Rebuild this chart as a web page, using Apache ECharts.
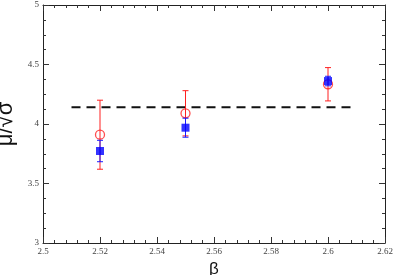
<!DOCTYPE html>
<html>
<head>
<meta charset="utf-8">
<script src="https://cdn.jsdelivr.net/npm/echarts@6/dist/echarts.min.js"></script>
<style>
  html, body { margin: 0; padding: 0; background: #fff; }
  #chart { width: 395px; height: 275px; }
</style>
</head>
<body>
<div id="chart"></div>
<script>
const betas = [2.52, 2.55, 2.6];
const redVals = [3.91, 4.09, 4.334];
const redErrs = [0.29, 0.19, 0.14];
const blueVals = [3.773, 3.969, 4.361];
const blueErrs = [0.09, 0.08, 0.04];
const fitLevel = 4.14;
const fitRange = [2.51, 2.61];

const myChart = echarts.init(document.getElementById("chart"));

function errSeries(vals, errs, color, z) {
  return {
    type: "custom",
    z: z,
    silent: true,
    renderItem: function (params, api) {
      const x = api.value(0);
      const lo = api.coord([x, api.value(1)]);
      const hi = api.coord([x, api.value(2)]);
      const cap = 3;
      const style = { stroke: color, lineWidth: 1 };
      return {
        type: "group",
        children: [
          { type: "line", shape: { x1: lo[0], y1: lo[1], x2: hi[0], y2: hi[1] }, style: style },
          { type: "line", shape: { x1: lo[0] - cap, y1: lo[1], x2: lo[0] + cap, y2: lo[1] }, style: style },
          { type: "line", shape: { x1: hi[0] - cap, y1: hi[1], x2: hi[0] + cap, y2: hi[1] }, style: style },
        ],
      };
    },
    data: betas.map((b, i) => [b, vals[i] - errs[i], vals[i] + errs[i]]),
  };
}

// same scale on both sides, ticks pointing in, labels only on bottom/left
function makeAxis(extra, minV, maxV, step, minorSplit, withLabel) {
  return Object.assign({
    type: "value",
    min: minV,
    max: maxV,
    interval: step,
    axisLine: { show: true, lineStyle: { color: "#222", width: 1 } },
    axisTick: { show: true, inside: true, length: 6, lineStyle: { color: "#333", width: 1 } },
    minorTick: { show: true, splitNumber: minorSplit, length: 3, lineStyle: { color: "#333", width: 1 } },
    axisLabel: withLabel
      ? { show: true, margin: 4, color: "#444", fontFamily: "Liberation Serif", fontSize: 9 }
      : { show: false },
    splitLine: { show: true, lineStyle: { color: "rgba(0,0,0,0)" } },
  }, extra);
}

myChart.setOption({
  animation: false,
  grid: { left: 43, right: 10, top: 5, bottom: 32, outerBoundsMode: "none", containLabel: false },
  xAxis: [
    makeAxis({
      position: "bottom",
      name: "β",
      nameLocation: "middle",
      nameGap: 18,
      nameTextStyle: { fontFamily: "Liberation Sans", fontSize: 17, color: "#111" },
    }, 2.5, 2.62, 0.02, 5, true),
    makeAxis({ position: "top" }, 2.5, 2.62, 0.02, 5, false),
  ],
  yAxis: [
    makeAxis({
      position: "left",
      name: "μ/√σ",
      nameLocation: "middle",
      nameGap: 18,
      nameTextStyle: { fontFamily: "Liberation Sans", fontSize: 22, color: "#111" },
    }, 3, 5, 0.5, 4, true),
    makeAxis({ position: "right" }, 3, 5, 0.5, 4, false),
  ],
  series: [
    {
      type: "line",
      z: 1,
      symbol: "none",
      silent: true,
      lineStyle: { color: "#111", width: 2, type: [9, 6] },
      data: fitRange.map((b) => [b, fitLevel]),
    },
    errSeries(redVals, redErrs, "#ff2020", 2),
    {
      type: "scatter",
      z: 3,
      symbol: "circle",
      symbolSize: 9,
      itemStyle: { color: "rgba(255,255,255,0)", borderColor: "#ff2020", borderWidth: 1.3 },
      data: betas.map((b, i) => [b, redVals[i]]),
    },
    errSeries(blueVals, blueErrs, "#1a1aff", 4),
    {
      type: "scatter",
      z: 5,
      symbol: "rect",
      symbolSize: 8,
      itemStyle: { color: "#0000ff" },
      data: betas.map((b, i) => [b, blueVals[i]]),
    },
  ],
});
</script>
</body>
</html>
